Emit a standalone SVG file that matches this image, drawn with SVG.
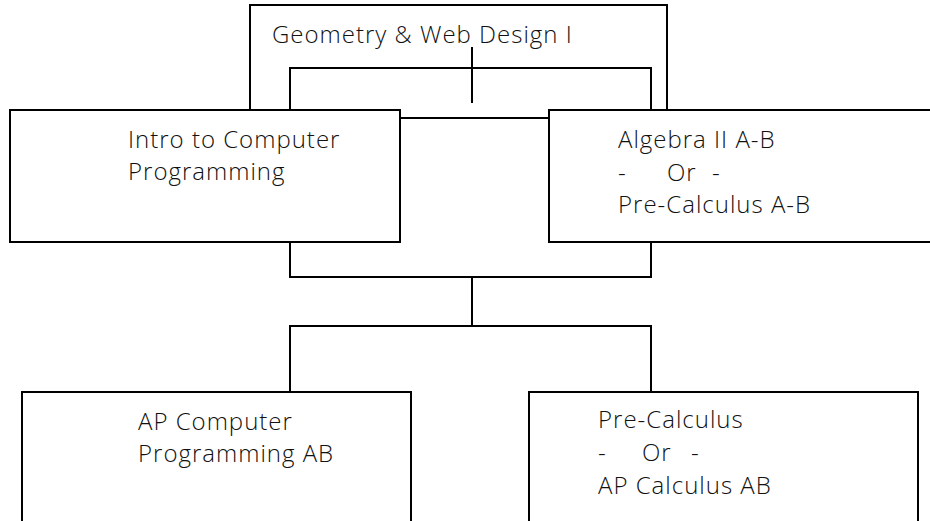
<svg xmlns="http://www.w3.org/2000/svg" width="930" height="521" viewBox="0 0 930 521">
<style>
.box{fill:#fff;stroke:#000;stroke-width:2}
.con{fill:none;stroke:#000;stroke-width:2}
text{font-family:"Open Sans","Liberation Sans",sans-serif;font-weight:300;font-size:24px;letter-spacing:1px;fill:#111}
</style>
<rect width="930" height="521" fill="#fff"/>
<g id="geometry">
<rect class="box" x="250" y="5" width="417" height="113"/>
<text x="272" y="43">Geometry &amp; Web Design I</text>
</g>
<g id="connectors">
<path class="con" d="M290,110 V68 H651 V110 M472,47 V103"/>
<path class="con" d="M290,242 V277 H651 V242 M472,277 V326 M290,392 V326 H651 V392"/>
</g>
<g id="intro">
<rect class="box" x="10" y="110" width="390" height="132"/>
<text x="128" y="148">Intro to Computer</text>
<text x="128" y="180">Programming</text>
</g>
<g id="algebra">
<rect class="box" x="549" y="110" width="382" height="132"/>
<text x="618" y="148">Algebra II A-B</text>
<text y="181"><tspan x="618">-</tspan><tspan x="667">Or</tspan><tspan x="712">-</tspan></text>
<text x="618" y="213">Pre-Calculus A-B</text>
</g>
<g id="apcs">
<rect class="box" x="22" y="392" width="389" height="130"/>
<text x="138" y="430">AP Computer</text>
<text x="138" y="462">Programming AB</text>
</g>
<g id="precalc">
<rect class="box" x="529" y="392" width="389" height="130"/>
<text x="598" y="428">Pre-Calculus</text>
<text y="461"><tspan x="598">-</tspan><tspan x="642">Or</tspan><tspan x="691">-</tspan></text>
<text x="598" y="494">AP Calculus AB</text>
</g>
</svg>
